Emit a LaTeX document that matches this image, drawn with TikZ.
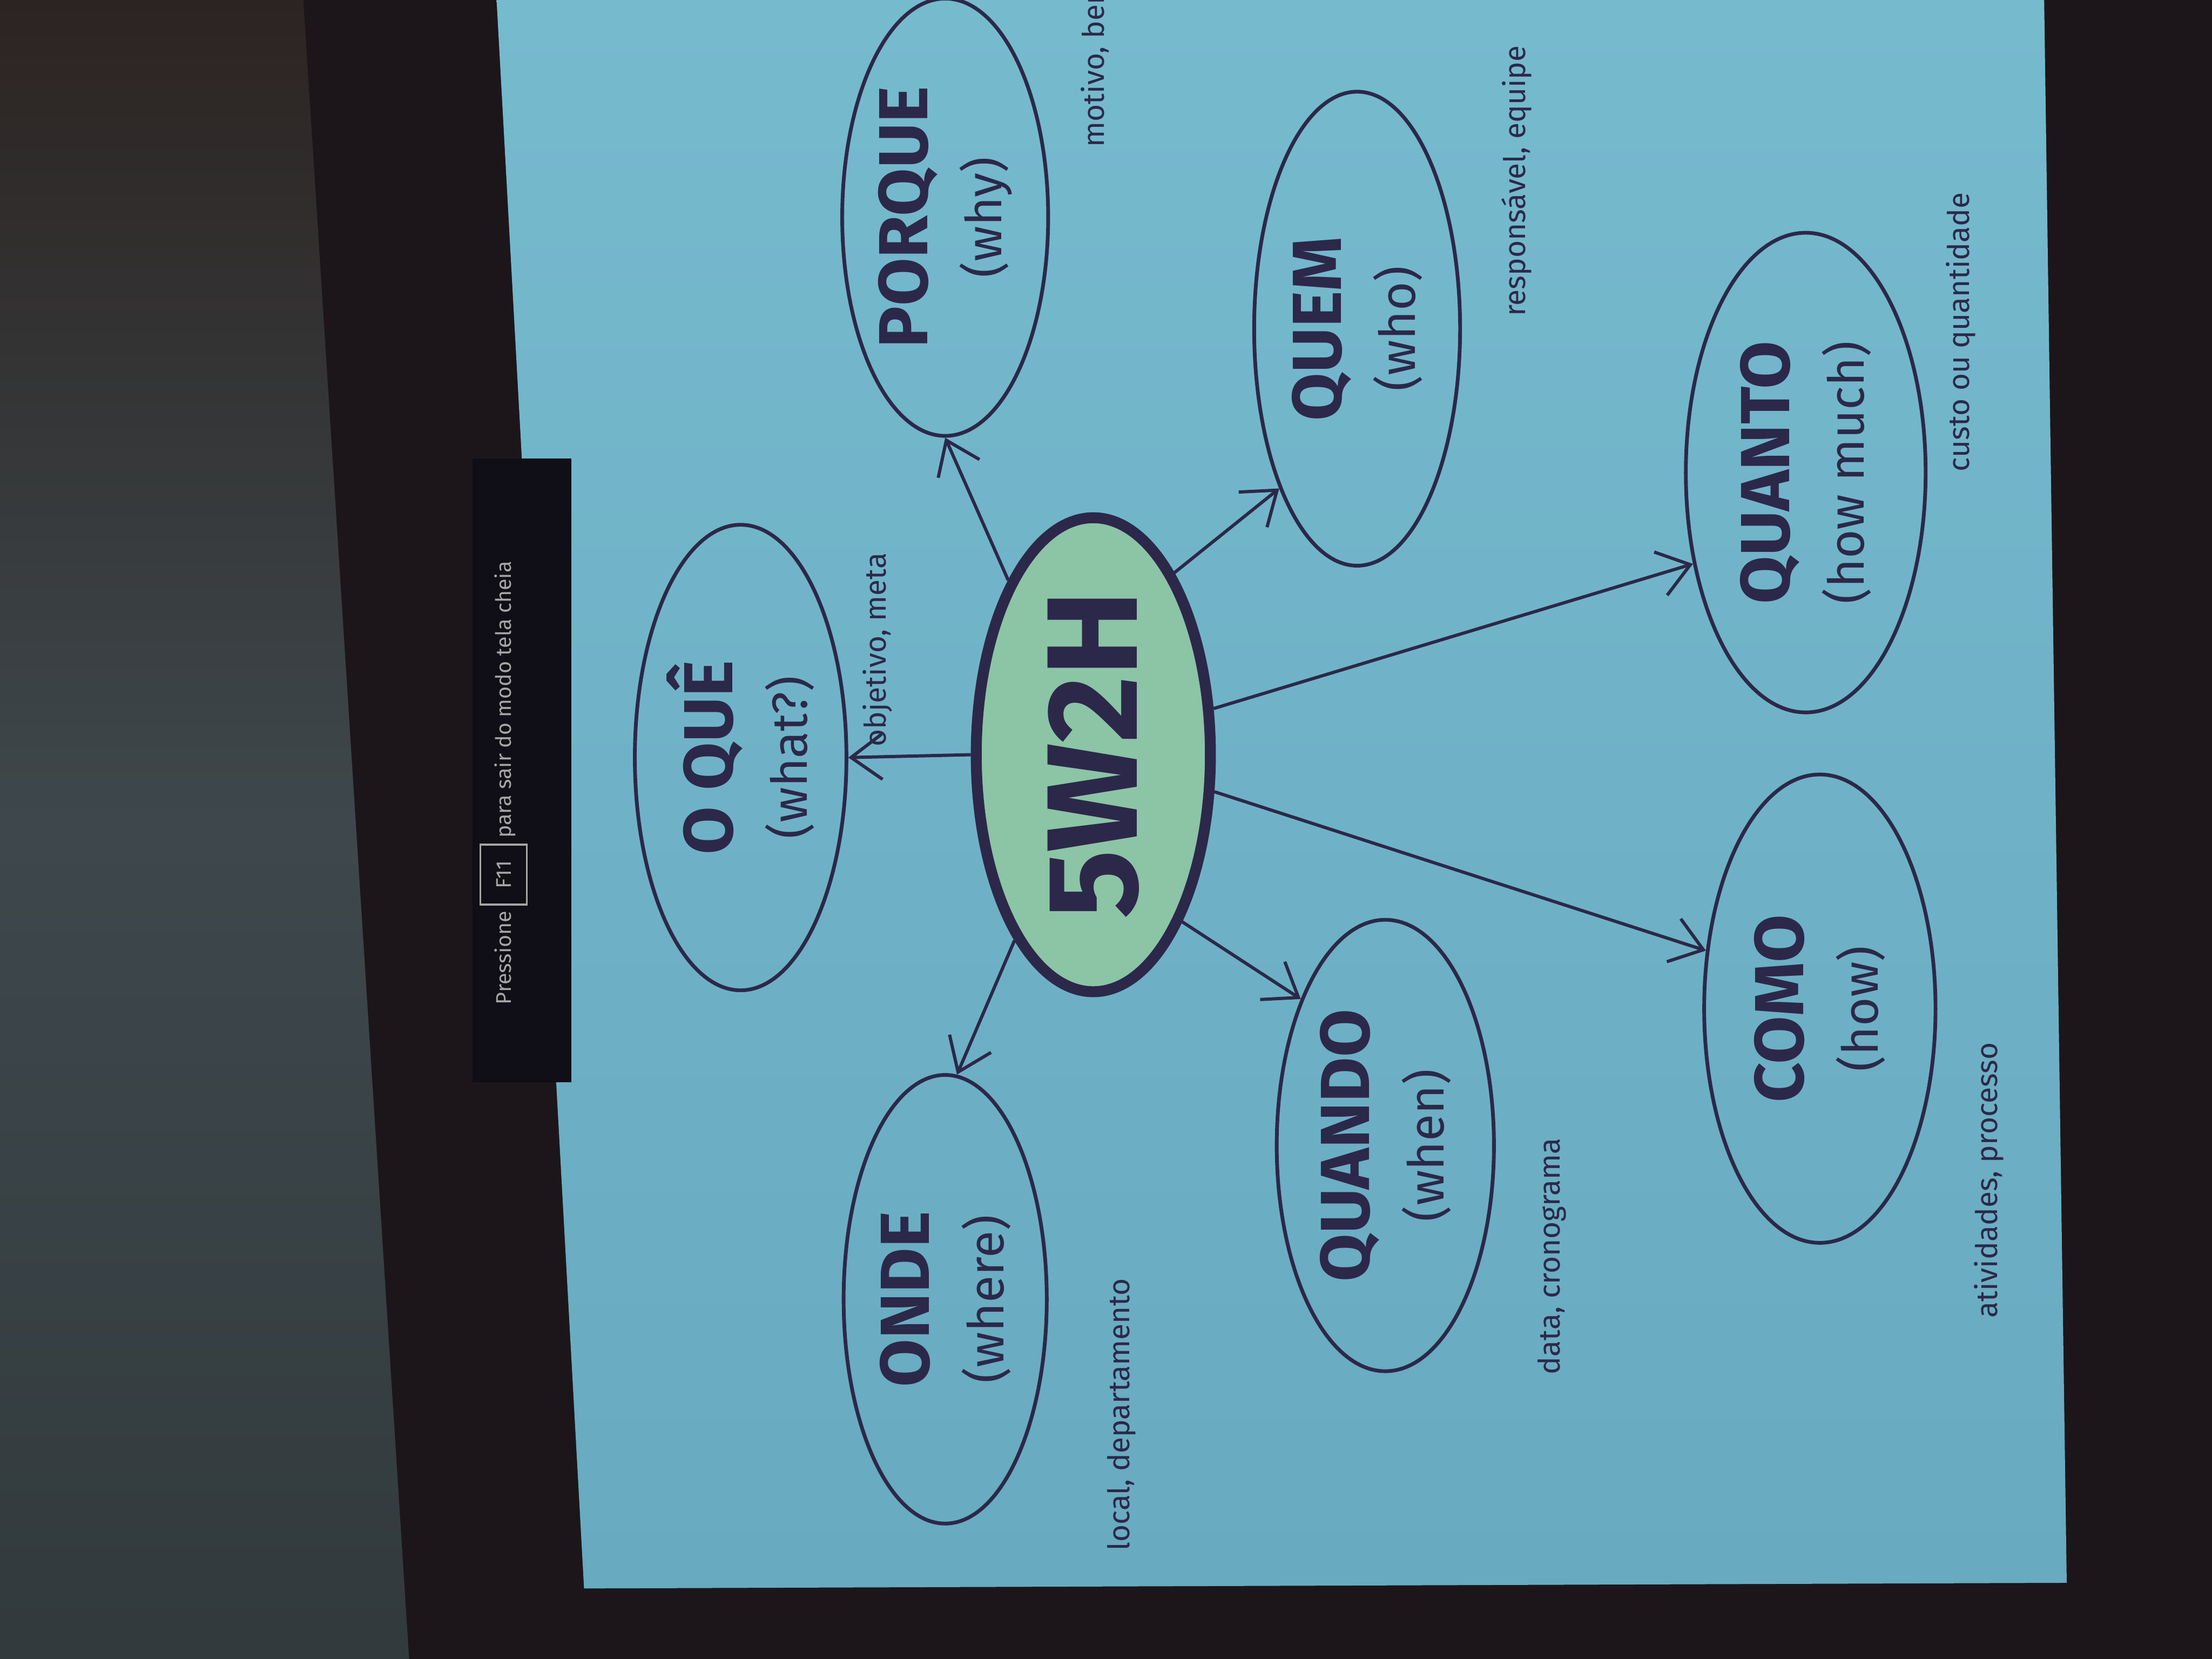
\documentclass[tikz,border=0pt]{standalone}
\usepackage{fontspec}
\setmainfont{Fira Sans}
\usetikzlibrary{arrows.meta,shapes.geometric}

\definecolor{ink}{RGB}{44,40,74}
\definecolor{slide}{RGB}{104,170,192}
\definecolor{slidetop}{RGB}{118,186,206}
\definecolor{hubfill}{RGB}{140,196,166}
\definecolor{wallmid}{RGB}{62,72,76}
\definecolor{walltop}{RGB}{44,36,34}
\definecolor{frame}{RGB}{28,22,26}
\definecolor{bar}{RGB}{16,14,22}

\newcommand{\bigword}[1]{{\fontsize{14}{15}\selectfont\bfseries #1}}
\newcommand{\subword}[1]{{\fontsize{10}{11}\selectfont #1}}

\tikzset{
  bubble/.style={ellipse, draw=ink, line width=0.75pt, inner sep=0pt, rotate=90,
    align=center, text=ink},
  hub/.style={bubble, fill=hubfill, line width=2.2pt},
  note/.style={rotate=90, anchor=west, inner sep=0pt, text=ink,
    font=\fontsize{6}{7}\selectfont},
  spoke/.style={->, draw=ink, line width=0.65pt},
}

\begin{document}
\begin{tikzpicture}[>={Straight Barb[length=2.2mm,width=3.2mm]}]
  % room and projected screen
  \useasboundingbox (0,0) rectangle (15.68,-11.76);
  \fill[frame] (0,0) rectangle (15.68,-11.76);
  \shade[top color=walltop, bottom color=wallmid!80!black, middle color=wallmid]
    (0,0) -- (2.15,0) -- (2.90,-11.76) -- (0,-11.76) -- cycle;
  \shade[top color=slidetop, bottom color=slide]
    (3.52,0) -- (14.49,0) -- (14.65,-11.22) -- (4.14,-11.26) -- cycle;
  \fill[bar] (3.35,-3.25) rectangle (4.05,-7.67);
  \node[rotate=90, text=gray!70, font=\fontsize{4.3}{5}\selectfont] (hint) at (3.57,-5.55)
    {Pressione \fbox{F11} para sair do modo tela cheia};

  % diagram
  \node[hub, minimum width=3.36cm, minimum height=1.66cm] (hub) at (7.75,-5.35)
    {\fontsize{26}{28}\selectfont\bfseries 5W2H};
  \foreach \n/\x/\y/\w/\h/\a/\b/\s/\e in {
    oque/5.25/-5.37/3.30/1.50/O QUÊ/(what?)/90/270,
    porque/6.70/-1.54/3.10/1.46/PORQUE/(why)/26/180,
    quem/9.62/-2.33/3.36/1.46/QUEM/(who)/336/154,
    onde/6.70/-9.21/3.18/1.44/ONDE/(where)/157/357,
    quando/9.82/-8.12/3.20/1.54/QUANDO/(when)/208/30,
    como/12.90/-7.15/3.32/1.64/COMO/(how)/253/63,
    quanto/12.80/-3.35/3.40/1.70/QUANTO/(how much)/291/129}{
    \node[bubble, minimum width=\w cm, minimum height=\h cm] (\n) at (\x,\y)
      {\bigword{\a}\\[3pt]\subword{\b}};
    \draw[spoke] (hub.\s) -- (\n.\e);
  }

  \foreach \x/\y/\t in {6.22/-5.30/{objetivo, meta}, 7.76/-1.05/{motivo, benefício},
    10.75/-2.25/{responsável, equipe}, 13.90/-3.35/{custo ou quantidade},
    14.10/-9.35/{atividades, processo}, 11.00/-9.75/{data, cronograma},
    7.95/-11.00/{local, departamento}}{
    \node[note] at (\x,\y) {\t};
  }
\end{tikzpicture}
\end{document}
